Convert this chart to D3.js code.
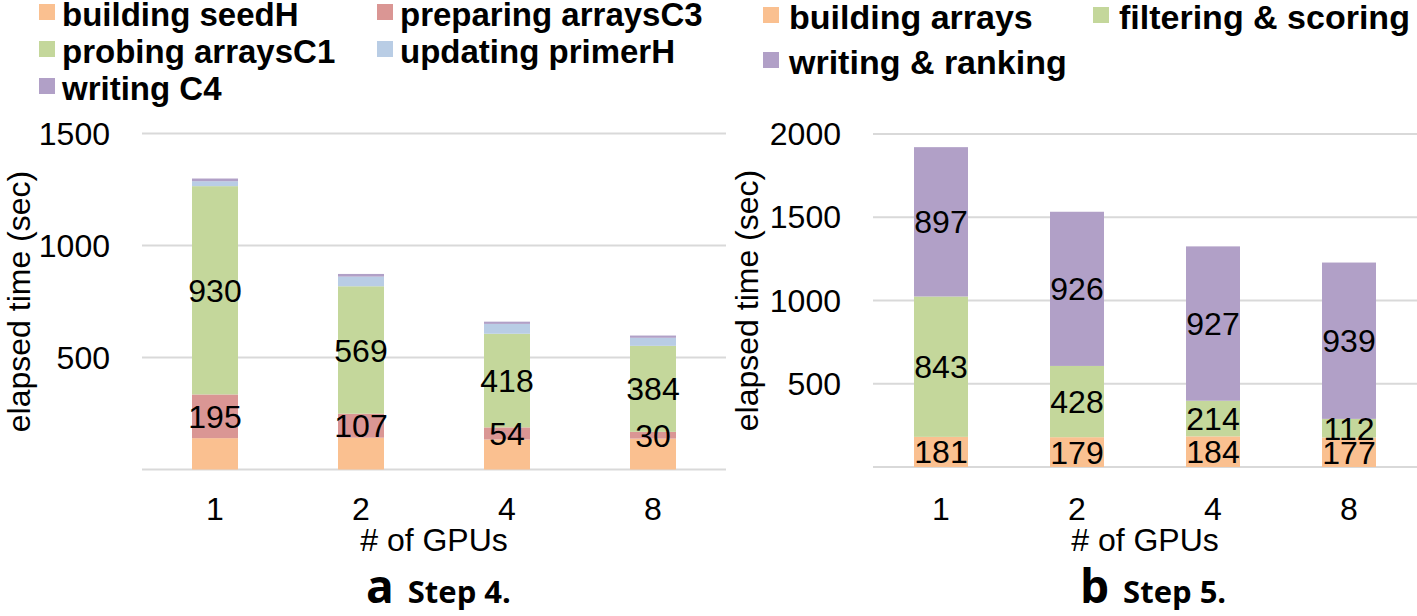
<!DOCTYPE html>
<html>
<head>
<meta charset="utf-8">
<script src="https://cdn.jsdelivr.net/npm/d3@7"></script>
<style>
  body { margin: 0; background: #fff; }
  svg text { font-family: "Liberation Sans", Arial, sans-serif; fill: #000; }
</style>
</head>
<body>
<svg id="chart" width="1417" height="616"></svg>
<script>
// ---- data ----
var gpus = ["1", "2", "4", "8"];

// Step 4 (panel a)
var step4Series = ["building seedH", "preparing arraysC3", "probing arraysC1", "updating primerH", "writing C4"];
var buildingSeedH = [140, 142, 134, 138];
var preparingArrays = [195, 107, 54, 30];
var probingArrays = [930, 569, 418, 384];
var updatingPrimer = [22, 43, 44, 36];
var writingC4 = [12, 12, 10, 10];
var step4Labelled = ["preparing arraysC3", "probing arraysC1"];
var step4Ticks = [500, 1000, 1500];

// Step 5 (panel b)
var step5Series = ["building arrays", "filtering & scoring", "writing & ranking"];
var buildingArrays = [181, 179, 184, 177];
var filteringScoring = [843, 428, 214, 112];
var writingRanking = [897, 926, 927, 939];
var step5Labelled = ["building arrays", "filtering & scoring", "writing & ranking"];
var step5Ticks = [500, 1000, 1500, 2000];

var svg = d3.select("#chart");

function rows(series, values) {
  return gpus.map(function(g, i) {
    var r = {gpu: g};
    series.forEach(function(s, j) { r[s] = values[j][i]; });
    return r;
  });
}

function drawPanel(p) {
  var data = rows(p.series, p.values);
  var x = d3.scaleBand().domain(gpus).range([p.left, p.right])
    .paddingInner(p.pad).paddingOuter(p.pad / 2);
  var y = d3.scaleLinear().domain([0, p.yMax]).range([p.bottom, p.top]);
  var color = d3.scaleOrdinal().domain(p.series).range(p.colors);
  var stack = d3.stack().keys(p.series)(data);

  var g = svg.append("g");

  // gridlines (incl. baseline)
  g.selectAll("line.grid")
    .data([0].concat(p.ticks))
    .enter().append("line")
    .attr("x1", p.left).attr("x2", p.gridEnd)
    .attr("y1", function(d) { return y(d); })
    .attr("y2", function(d) { return y(d); })
    .attr("stroke", "#d9d9d9")
    .attr("stroke-width", 2);

  // y tick labels
  g.selectAll("text.ytick")
    .data(p.ticks)
    .enter().append("text")
    .attr("x", p.left - 32)
    .attr("y", function(d) { return y(d); })
    .attr("dy", "0.35em")
    .attr("text-anchor", "end")
    .style("font-size", "32px")
    .text(function(d) { return d; });

  // stacked bars
  var layers = g.selectAll("g.layer")
    .data(stack)
    .enter().append("g")
    .attr("fill", function(d) { return color(d.key); });

  layers.selectAll("rect")
    .data(function(d) { return d; })
    .enter().append("rect")
    .attr("x", function(d) { return x(d.data.gpu); })
    .attr("width", x.bandwidth())
    .attr("y", function(d) { return y(d[1]); })
    .attr("height", function(d) { return y(d[0]) - y(d[1]); });

  // value labels
  stack.filter(function(s) { return p.labelled.indexOf(s.key) >= 0; }).forEach(function(s) {
    g.selectAll(null)
      .data(s)
      .enter().append("text")
      .attr("x", function(d) { return x(d.data.gpu) + x.bandwidth() / 2; })
      .attr("y", function(d) { return (y(d[0]) + y(d[1])) / 2; })
      .attr("dy", "0.36em")
      .attr("text-anchor", "middle")
      .style("font-size", "32px")
      .text(function(d) { return d.data[s.key]; });
  });

  // x tick labels
  g.selectAll("text.xtick")
    .data(gpus)
    .enter().append("text")
    .attr("x", function(d) { return x(d) + x.bandwidth() / 2; })
    .attr("y", 520)
    .attr("text-anchor", "middle")
    .style("font-size", "32px")
    .text(function(d) { return d; });

  var mid = (p.left + p.right) / 2;
  g.append("text")
    .attr("x", mid).attr("y", 551)
    .attr("text-anchor", "middle")
    .style("font-size", "32px")
    .text("# of GPUs");

  // y axis title
  g.append("text")
    .attr("transform", "translate(" + p.titleX + "," + ((p.top + p.bottom) / 2) + ") rotate(-90)")
    .attr("dy", "0.35em")
    .attr("text-anchor", "middle")
    .style("font-size", "32px")
    .text("elapsed time (sec)");

  // caption
  var cap = g.append("text")
    .attr("x", p.capX).attr("y", 603)
    .style("font-weight", "bold")
    .style("font-family", "'Open Sans', 'Noto Sans', sans-serif");
  cap.append("tspan").style("font-size", "46px").text(p.capLetter);
  cap.append("tspan").attr("dx", 14).style("font-size", "31px").text(p.capText);

  // legend
  var leg = g.selectAll("g.leg")
    .data(p.series)
    .enter().append("g")
    .attr("transform", function(d, i) {
      return "translate(" + p.legCols[i % 2] + "," + p.legRows[Math.floor(i / 2)] + ")";
    });
  leg.append("rect")
    .attr("x", 0).attr("y", -22)
    .attr("width", 16).attr("height", 16)
    .attr("fill", function(d) { return color(d); });
  leg.append("text")
    .attr("x", p.legGap)
    .style("font-size", p.legFont)
    .style("font-weight", "bold")
    .text(function(d) { return d; });
}

drawPanel({
  series: step4Series,
  values: [buildingSeedH, preparingArrays, probingArrays, updatingPrimer, writingC4],
  labelled: step4Labelled,
  ticks: step4Ticks,
  colors: ["#fac090", "#da9694", "#c4d79b", "#b9cde5", "#b1a0c7"],
  yMax: 1500,
  left: 142, right: 726, gridEnd: 726,
  top: 133.5, bottom: 469.5,
  pad: 0.685,
  titleX: 19,
  capX: 366, capLetter: "a", capText: "Step 4.",
  legCols: [39, 377], legRows: [26, 63, 100], legGap: 23, legFont: "33px"
});

drawPanel({
  series: step5Series,
  values: [buildingArrays, filteringScoring, writingRanking],
  labelled: step5Labelled,
  ticks: step5Ticks,
  colors: ["#fac090", "#c4d79b", "#b1a0c7"],
  yMax: 2000,
  left: 873, right: 1417, gridEnd: 1417,
  top: 134, bottom: 467,
  pad: 0.603,
  titleX: 747,
  capX: 1080, capLetter: "b", capText: "Step 5.",
  legCols: [763, 1093], legRows: [29, 74], legGap: 26, legFont: "34px"
});
</script>
</body>
</html>
